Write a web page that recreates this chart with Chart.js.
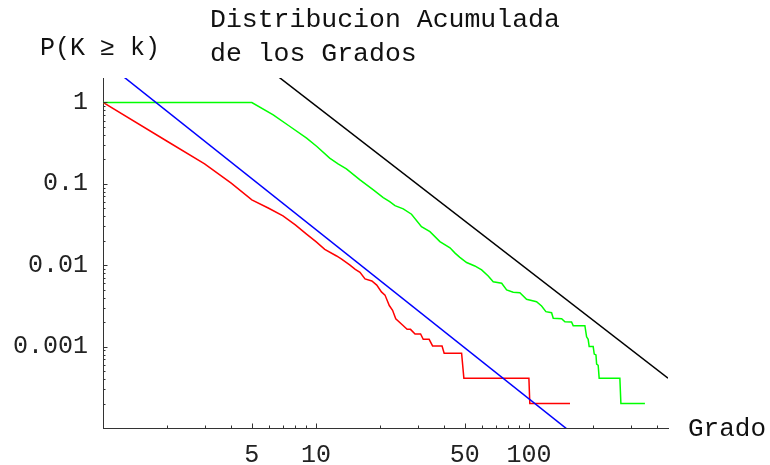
<!DOCTYPE html>
<html><head><meta charset="utf-8">
<style>html,body{margin:0;padding:0;background:#fff;}#wrap{width:770px;height:465px;}</style>
<script src="https://cdn.jsdelivr.net/npm/chart.js@4.4.1/dist/chart.umd.min.js"></script>
</head><body><div id="wrap"><canvas id="c" width="770" height="465"></canvas></div>
<script>
const titleLines = ['Distribucion Acumulada', 'de los Grados'];
const yAxisTitle = 'P(K \u2265 k)';
const xAxisTitle = 'Grado';
const xTickValues = [5, 10, 50, 100];
const xTickLabels = ['5', '10', '50', '100'];
const yTickValues = [0.001, 0.01, 0.1, 1];
const yTickLabels = ['0.001', '0.01', '0.1', '1'];
const xMinorTicks = [2, 3, 4, 6, 7, 8, 9, 20, 30, 40, 60, 70, 80, 90, 200, 300, 400];
const yMinorTicks = [0.0002, 0.0003, 0.0004, 0.0005, 0.0006, 0.0007, 0.0008, 0.0009,
  0.002, 0.003, 0.004, 0.005, 0.006, 0.007, 0.008, 0.009,
  0.02, 0.03, 0.04, 0.05, 0.06, 0.07, 0.08, 0.09,
  0.2, 0.3, 0.4, 0.5, 0.6, 0.7, 0.8, 0.9];
const xRange = [1, 450];
const yRange = [0.0001, 2];

const redX = [1, 2, 3, 4, 5, 6, 7, 8, 9, 10, 11, 12.5, 13.2, 14.4, 15.3, 16.1, 17, 18.3, 19.3, 20.3, 21.1, 22.1, 22.9, 23.7, 25.5, 26.8, 27.8, 29.2, 31, 31.9, 34, 35.3, 39.1, 40, 48.3, 49.5, 100, 101, 156];
const redY = [1, 0.334, 0.176, 0.102, 0.0636, 0.0502, 0.0404, 0.0313, 0.0243, 0.0195, 0.0157, 0.0130, 0.0119, 0.0101, 0.0089, 0.0082, 0.0068, 0.0064, 0.0057, 0.0047, 0.0043, 0.0032, 0.0028, 0.0022, 0.00184, 0.00163, 0.00163, 0.00143, 0.00143, 0.00123, 0.00123, 0.00102, 0.00102, 0.00083, 0.00083, 0.00041, 0.00041, 0.0002, 0.0002];

const greenX = [1, 5, 6.3, 7.55, 9.04, 10.1, 11.6, 12.7, 13.9, 16.1, 18.6, 20.7, 22.2, 23.5, 25.7, 28.1, 31.3, 34.3, 38.2, 42.6, 45, 47.4, 51, 55.7, 60, 64.4, 68, 74.5, 78.6, 84.4, 90.7, 97.5, 108.6, 114.7, 120.2, 127.8, 130.1, 142.5, 147.6, 158.6, 161.4, 183.2, 186.6, 189.8, 191.9, 200.4, 202.7, 206.5, 208, 211.5, 213.8, 267.4, 270.4, 350.6];
const greenY = [1, 1, 0.706, 0.507, 0.365, 0.288, 0.207, 0.176, 0.153, 0.112, 0.0844, 0.0679, 0.0606, 0.0541, 0.0493, 0.0424, 0.0298, 0.0259, 0.0195, 0.0164, 0.0141, 0.0125, 0.0108, 0.0098, 0.00875, 0.00738, 0.00628, 0.00601, 0.00497, 0.00465, 0.0046, 0.00382, 0.00357, 0.00316, 0.00269, 0.00261, 0.00223, 0.0022, 0.00202, 0.00201, 0.00181, 0.00181, 0.00132, 0.00123, 0.001, 0.001, 0.00081, 0.00079, 0.00061, 0.00059, 0.00041, 0.00041, 0.0002, 0.0002];

const blueX = [1, 160];
const blueY = [3.29, 0.000086];
const blackX = [1, 450];
const blackY = [96.4, 0.000409];

const toPts = (xs, ys) => xs.map((x, i) => ({ x: x, y: ys[i] }));

const decorPlugin = {
  id: 'decor',
  afterDraw(chart) {
    const ctx = chart.ctx;
    const xs = chart.scales.x, ys = chart.scales.y;
    const ca = chart.chartArea;
    ctx.save();
    ctx.strokeStyle = '#333';
    ctx.lineWidth = 1;
    ctx.beginPath();
    const xt = (v, len) => { const p = Math.round(xs.getPixelForValue(v)) + 0.5; ctx.moveTo(p, ca.bottom); ctx.lineTo(p, ca.bottom - len); };
    const yt = (v, len) => { const p = Math.round(ys.getPixelForValue(v)) + 0.5; ctx.moveTo(ca.left, p); ctx.lineTo(ca.left + len, p); };
    xTickValues.forEach(v => xt(v, 4.5));
    xMinorTicks.forEach(v => xt(v, 2.5));
    yTickValues.forEach(v => yt(v, 4.5));
    yMinorTicks.forEach(v => yt(v, 2.5));
    ctx.stroke();

    ctx.fillStyle = '#111';
    ctx.font = '26.5px "Liberation Mono"';
    ctx.textAlign = 'left';
    ctx.textBaseline = 'alphabetic';
    ctx.fillText(titleLines[0], 210, 27);
    ctx.fillText(titleLines[1], 210, 61);
    ctx.font = '25px "Liberation Mono"';
    ctx.textAlign = 'center';
    ctx.fillText(yAxisTitle, ca.left - 3, 55);
    ctx.textAlign = 'left';
    ctx.font = '26px "Liberation Mono"';
    ctx.fillText(xAxisTitle, ca.right + 20, ca.bottom + 8);
    ctx.restore();
  }
};

new Chart(document.getElementById('c'), {
  type: 'scatter',
  data: {
    datasets: [
      { data: toPts(blackX, blackY), borderColor: '#000000' },
      { data: toPts(blueX, blueY), borderColor: '#0000ff' },
      { data: toPts(greenX, greenY), borderColor: '#00ff00' },
      { data: toPts(redX, redY), borderColor: '#ff0000' }
    ]
  },
  options: {
    responsive: false,
    animation: false,
    devicePixelRatio: 1,
    layout: { padding: { top: 78, right: 102, left: 0, bottom: 0 } },
    plugins: { legend: { display: false }, tooltip: { enabled: false }, title: { display: false } },
    elements: { point: { radius: 0 }, line: { tension: 0, borderWidth: 1.5 } },
    datasets: { scatter: { showLine: true } },
    scales: {
      x: {
        type: 'logarithmic', position: 'bottom', min: xRange[0], max: xRange[1],
        afterBuildTicks: s => { s.ticks = xTickValues.map(v => ({ value: v })); },
        afterFit: s => { s.height = 37; },
        ticks: { autoSkip: false, maxRotation: 0, minRotation: 0, padding: 12, color: '#222',
          font: { family: 'Liberation Mono', size: 25 },
          callback: (v, i) => xTickLabels[i] },
        grid: { display: true, drawOnChartArea: false, drawTicks: false },
        border: { display: true, color: '#333', width: 1 }
      },
      y: {
        type: 'logarithmic', position: 'left', min: yRange[0], max: yRange[1],
        afterBuildTicks: s => { s.ticks = yTickValues.map(v => ({ value: v })); },
        afterFit: s => { s.width = 103; },
        ticks: { autoSkip: false, padding: 15, color: '#222',
          font: { family: 'Liberation Mono', size: 25 },
          callback: (v, i) => yTickLabels[i] },
        grid: { display: true, drawOnChartArea: false, drawTicks: false },
        border: { display: true, color: '#333', width: 1 }
      }
    }
  },
  plugins: [decorPlugin]
});
</script>
</body></html>
